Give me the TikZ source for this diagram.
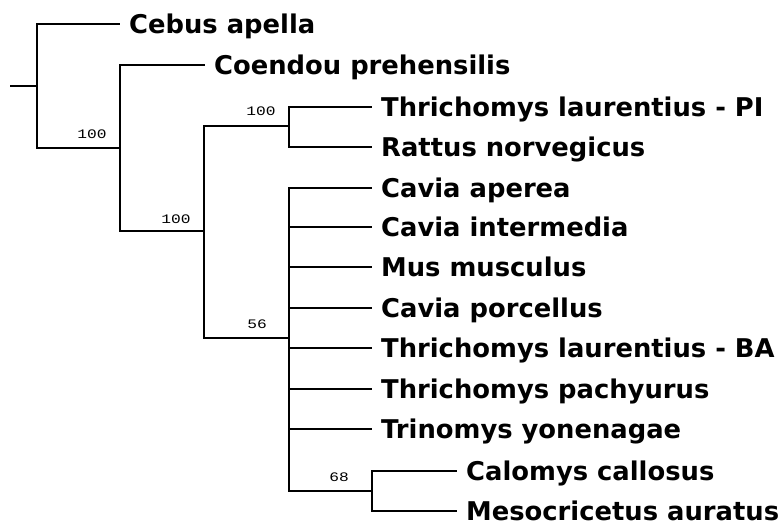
\documentclass[tikz,border=0pt]{standalone}
\usepackage{fontspec}
\usepackage{graphicx}
\setmainfont{DejaVu Sans}
\newfontfamily\suppfont{Liberation Mono}
\newcommand{\suppwide}[1]{\scalebox{1.25}[1]{#1}}
\begin{document}
\begin{tikzpicture}[x=1pt,y=-1pt,
  edge/.style={line width=1.7pt, black},
  leaf/.style={anchor=base west, inner sep=0pt, xshift=9pt, yshift=-9pt, text depth=0pt,
    font=\fontsize{25.8}{25.8}\selectfont\bfseries},
  supp/.style={anchor=base, inner sep=0pt, font=\suppfont\fontsize{13}{13}\selectfont}]
\useasboundingbox[fill=white] (0,0) rectangle (782,523);
% internal nodes
\coordinate (stem) at (10,86);
\coordinate (root) at (37,86);
\coordinate (A) at (120,148);
\coordinate (B) at (204,231);
\coordinate (C) at (289,126);
\coordinate (D) at (289,338);
\coordinate (E) at (372,491);
% leaf tips
\coordinate (t1) at (120,24);
\coordinate (t2) at (205,65);
\coordinate (t3) at (372,107);
\coordinate (t4) at (372,147);
\coordinate (t5) at (372,188);
\coordinate (t6) at (372,227);
\coordinate (t7) at (372,267);
\coordinate (t8) at (372,308);
\coordinate (t9) at (372,348);
\coordinate (t10) at (372,389);
\coordinate (t11) at (372,429);
\coordinate (t12) at (457,471);
\coordinate (t13) at (457,511);
% labels
\node[leaf] (l1) at (t1) {Cebus apella};
\node[leaf] (l2) at (t2) {Coendou prehensilis};
\node[leaf] (l3) at (t3) {Thrichomys laurentius - PI};
\node[leaf] (l4) at (t4) {Rattus norvegicus};
\node[leaf] (l5) at (t5) {Cavia aperea};
\node[leaf] (l6) at (t6) {Cavia intermedia};
\node[leaf] (l7) at (t7) {Mus musculus};
\node[leaf] (l8) at (t8) {Cavia porcellus};
\node[leaf] (l9) at (t9) {Thrichomys laurentius - BA};
\node[leaf] (l10) at (t10) {Thrichomys pachyurus};
\node[leaf] (l11) at (t11) {Trinomys yonenagae};
\node[leaf] (l12) at (t12) {Calomys callosus};
\node[leaf] (l13) at (t13) {Mesocricetus auratus};
% edges
\draw[edge] (stem) -- (root);
\draw[edge] (root) |- (t1);
\draw[edge] (root) |- (A);
\draw[edge] (A) |- (t2);
\draw[edge] (A) |- (B);
\draw[edge] (B) |- (C);
\draw[edge] (B) |- (D);
\draw[edge] (C) |- (t3);
\draw[edge] (C) |- (t4);
\foreach \i in {5,...,11} {\draw[edge] (D) |- (t\i);}
\draw[edge] (D) |- (E);
\draw[edge] (E) |- (t12);
\draw[edge] (E) |- (t13);
% support values
\node[supp] (sA) at (92,138) {\suppwide{100}};
\node[supp] (sB) at (176,223) {\suppwide{100}};
\node[supp] (sC) at (261,115) {\suppwide{100}};
\node[supp] (sD) at (257,328) {\suppwide{56}};
\node[supp] (sE) at (339,481) {\suppwide{68}};
\end{tikzpicture}
\end{document}
